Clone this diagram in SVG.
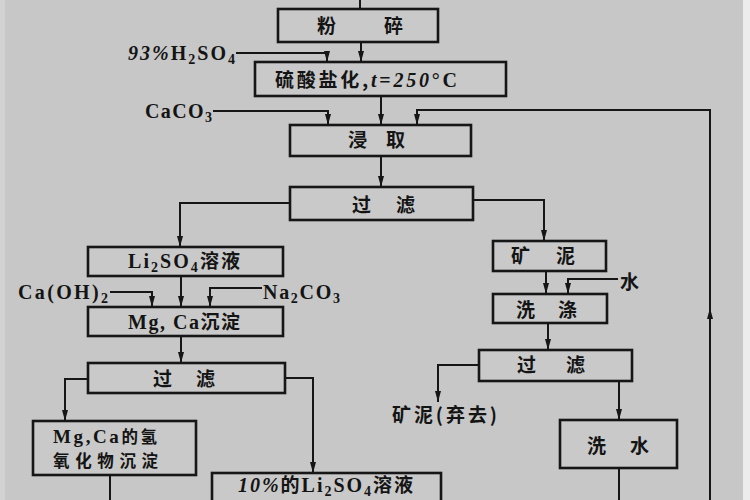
<svg xmlns="http://www.w3.org/2000/svg" width="750" height="500" viewBox="0 0 750 500">
<defs>
<marker id="arr" markerUnits="userSpaceOnUse" markerWidth="12" markerHeight="8" refX="11" refY="4" orient="auto">
<path d="M0,1 L11,4 L0,7 z" fill="#161616"/>
</marker>
<style>
.bg{fill:#c7c7c7}
.box{fill:#c9c9c9;stroke:#161616;stroke-width:2.6}
.ln{fill:none;stroke:#161616;stroke-width:2}
.cn{font-family:"Noto Sans CJK SC","Noto Sans CJK TC",sans-serif;font-size:19px;font-weight:700;fill:#141414}
.lt{font-family:"Liberation Serif","Noto Sans CJK SC",serif;font-size:20px;font-weight:700;fill:#141414}
.it{font-style:italic}
.sb{font-size:14px}
.sm{font-size:16.5px}
.ml{font-size:19px}
</style>
</defs>
<rect class="bg" x="0" y="0" width="750" height="500"/>
<rect x="743" y="0" width="7" height="500" fill="#ececec"/>
<rect x="0" y="0" width="5" height="500" fill="#d2d2d2"/>

<g id="connectors">
<path class="ln" d="M360,0 V9"/>
<path class="ln" d="M361,42 V62" marker-end="url(#arr)"/>
<path class="ln" d="M236,53 H327 V62" marker-end="url(#arr)"/>
<path class="ln" d="M381,96 V125" marker-end="url(#arr)"/>
<path class="ln" d="M213,111 H328 V125" marker-end="url(#arr)"/>
<path class="ln" d="M710,500 V308" marker-end="url(#arr)"/>
<path class="ln" d="M710,309 V110 H417 V125" marker-end="url(#arr)"/>
<path class="ln" d="M381,156 V187" marker-end="url(#arr)"/>
<path class="ln" d="M290,203 H180 V247" marker-end="url(#arr)"/>
<path class="ln" d="M473,200 H544 V241" marker-end="url(#arr)"/>
<path class="ln" d="M181,276 V307" marker-end="url(#arr)"/>
<path class="ln" d="M110,292 H152 V307" marker-end="url(#arr)"/>
<path class="ln" d="M262,288 H210 V307" marker-end="url(#arr)"/>
<path class="ln" d="M546,271 V294" marker-end="url(#arr)"/>
<path class="ln" d="M618,279 H568 V294" marker-end="url(#arr)"/>
<path class="ln" d="M548,323 V350" marker-end="url(#arr)"/>
<path class="ln" d="M181,336 V363" marker-end="url(#arr)"/>
<path class="ln" d="M88,379 H65 V421" marker-end="url(#arr)"/>
<path class="ln" d="M285,378 H313 V473" marker-end="url(#arr)"/>
<path class="ln" d="M479,365 H438 V402" marker-end="url(#arr)"/>
<path class="ln" d="M619,381 V420" marker-end="url(#arr)"/>
<path class="ln" d="M619,468 V500"/>
<path class="ln" d="M110,475 V500"/>
</g>

<g id="n-fensui">
<rect class="box" x="278" y="9" width="160" height="33"/>
<text class="cn" y="33"><tspan x="317">粉</tspan><tspan x="384">碎</tspan></text>
</g>
<g id="n-h2so4">
<text class="lt" x="128" y="60" textLength="107" lengthAdjust="spacing"><tspan class="it">93%</tspan>H<tspan class="sb" dy="4">2</tspan><tspan dy="-4">SO</tspan><tspan class="sb" dy="4">4</tspan></text>
</g>
<g id="n-sulfate">
<rect class="box" x="255" y="62" width="251" height="34"/>
<text class="cn" x="275" y="87" textLength="182" lengthAdjust="spacing">硫酸盐化,<tspan class="lt it">t</tspan><tspan class="lt">=</tspan><tspan class="lt it">250</tspan><tspan class="lt">°C</tspan></text>
</g>
<g id="n-caco3">
<text class="lt" x="145" y="118" textLength="67" lengthAdjust="spacing">CaCO<tspan class="sb" dy="4">3</tspan></text>
</g>
<g id="n-leach">
<rect class="box" x="290" y="125" width="181" height="31"/>
<text class="cn" y="147"><tspan x="348">浸</tspan><tspan x="386">取</tspan></text>
</g>
<g id="n-filter1">
<rect class="box" x="290" y="187" width="183" height="33"/>
<text class="cn" y="212"><tspan x="352">过</tspan><tspan x="396">滤</tspan></text>
</g>
<g id="n-li2so4">
<rect class="box" x="88" y="247" width="195" height="29"/>
<text class="lt" x="128" y="268" textLength="112" lengthAdjust="spacing">Li<tspan class="sb" dy="4">2</tspan><tspan dy="-4">SO</tspan><tspan class="sb" dy="4">4</tspan><tspan class="cn" dy="-4">溶液</tspan></text>
</g>
<g id="n-caoh2">
<text class="lt" x="18" y="299" textLength="90" lengthAdjust="spacing">Ca(OH)<tspan class="sb" dy="4">2</tspan></text>
</g>
<g id="n-na2co3">
<text class="lt" x="263" y="299" textLength="77" lengthAdjust="spacing">Na<tspan class="sb" dy="4">2</tspan><tspan dy="-4">CO</tspan><tspan class="sb" dy="4">3</tspan></text>
</g>
<g id="n-mgca">
<rect class="box" x="88" y="307" width="195" height="29"/>
<text class="lt" x="128" y="329" textLength="112" lengthAdjust="spacing">Mg, Ca<tspan class="cn">沉淀</tspan></text>
</g>
<g id="n-mud">
<rect class="box" x="493" y="241" width="113" height="30"/>
<text class="cn" y="263"><tspan x="511">矿</tspan><tspan x="556">泥</tspan></text>
</g>
<g id="n-water">
<text class="cn" x="620" y="289">水</text>
</g>
<g id="n-wash">
<rect class="box" x="493" y="294" width="114" height="29"/>
<text class="cn" y="317"><tspan x="516">洗</tspan><tspan x="558">涤</tspan></text>
</g>
<g id="n-filter2">
<rect class="box" x="479" y="350" width="153" height="31"/>
<text class="cn" y="372"><tspan x="517">过</tspan><tspan x="566">滤</tspan></text>
</g>
<g id="n-discard">
<text class="cn" x="392" y="422" textLength="105" lengthAdjust="spacing">矿泥(弃去)</text>
</g>
<g id="n-washwater">
<rect class="box" x="560" y="420" width="117" height="48"/>
<text class="cn" y="453"><tspan x="587">洗</tspan><tspan x="630">水</tspan></text>
</g>
<g id="n-filter3">
<rect class="box" x="88" y="363" width="197" height="30"/>
<text class="cn" y="386"><tspan x="153">过</tspan><tspan x="196">滤</tspan></text>
</g>
<g id="n-hydroxide">
<rect class="box" x="33" y="421" width="163" height="54"/>
<text class="lt ml" x="53" y="443" textLength="104" lengthAdjust="spacing">Mg,Ca<tspan class="cn sm">的氢</tspan></text>
<text class="cn sm" x="53" y="467" textLength="105" lengthAdjust="spacing">氧化物沉淀</text>
</g>
<g id="n-li2so4-10">
<rect class="box" x="212" y="473" width="229" height="40"/>
<text class="lt" x="238" y="492" textLength="175" lengthAdjust="spacing"><tspan class="it">10%</tspan><tspan class="cn">的</tspan>Li<tspan class="sb" dy="4">2</tspan><tspan dy="-4">SO</tspan><tspan class="sb" dy="4">4</tspan><tspan class="cn" dy="-4">溶液</tspan></text>
</g>
</svg>
